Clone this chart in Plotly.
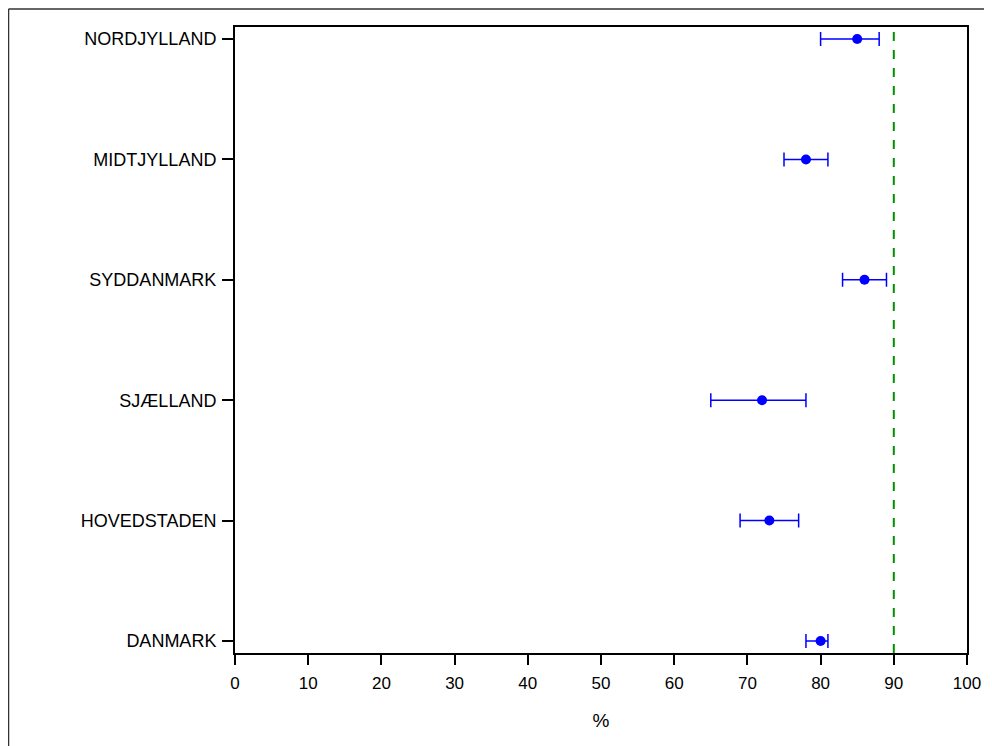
import plotly.graph_objects as go

regions = ["DANMARK", "HOVEDSTADEN", "SJÆLLAND", "SYDDANMARK", "MIDTJYLLAND", "NORDJYLLAND"]
estimate = [80, 73, 72, 86, 78, 85]
lower = [78, 69, 65, 83, 75, 80]
upper = [81, 77, 78, 89, 81, 88]
target = 90
x_ticks = [0, 10, 20, 30, 40, 50, 60, 70, 80, 90, 100]

ypos = list(range(len(regions)))
err_plus = [u - e for u, e in zip(upper, estimate)]
err_minus = [e - l for e, l in zip(estimate, lower)]

fig = go.Figure()
fig.add_trace(go.Scatter(
    x=estimate, y=ypos, mode="markers",
    marker=dict(color="#0000FF", size=10),
    error_x=dict(type="data", symmetric=False, array=err_plus, arrayminus=err_minus,
                 color="#0000FF", thickness=1.5, width=7),
    showlegend=False,
))

fig.add_shape(type="line", xref="x", yref="paper", x0=target, x1=target, y0=0, y1=1,
              line=dict(color="#009000", width=2, dash="dash"))

# outer frame (partially visible)
fig.add_shape(type="line", xref="paper", yref="paper", x0=-0.3094, x1=1.2, y0=1.0288, y1=1.0288,
              line=dict(color="#333333", width=1.5))
fig.add_shape(type="line", xref="paper", yref="paper", x0=-0.3094, x1=-0.3094, y0=-0.3, y1=1.0288,
              line=dict(color="#333333", width=1.5))

fig.update_layout(
    width=984, height=738,
    margin=dict(l=227, r=25, t=19, b=93),
    paper_bgcolor="white", plot_bgcolor="white",
    font=dict(family="Liberation Sans, Arial, sans-serif", color="black"),
    xaxis=dict(range=[0, 100], tickvals=x_ticks, ticktext=[str(v) for v in x_ticks],
               showgrid=False, zeroline=False, showline=True, linecolor="black", linewidth=2,
               mirror=True, ticks="outside", ticklen=10, tickwidth=2, tickcolor="black",
               tickfont=dict(size=17), ticklabelstandoff=4,
               title=dict(text="%", font=dict(size=19), standoff=21)),
    yaxis=dict(range=[-0.1, 5.1], tickvals=ypos, ticktext=regions,
               showgrid=False, zeroline=False, showline=True, linecolor="black", linewidth=2,
               mirror=True, ticks="outside", ticklen=11, tickwidth=1.5, tickcolor="black",
               tickfont=dict(size=18), ticklabelstandoff=2),
)

fig.write_html("out.html")
